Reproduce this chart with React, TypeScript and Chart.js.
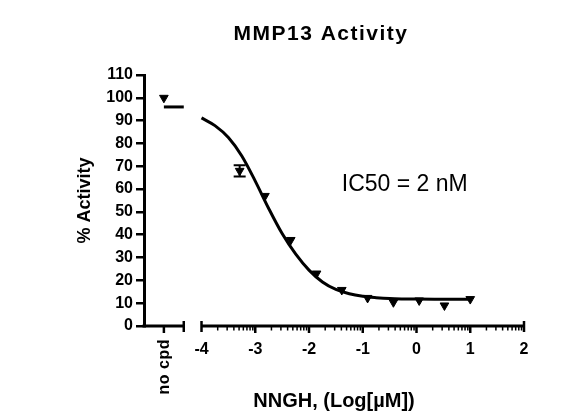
import React, { useEffect, useRef } from 'react';
import { Chart, registerables } from 'chart.js';

Chart.register(...registerables);

const FONT = '"Liberation Sans", Arial, Helvetica, sans-serif';

// NNGH doses, log10 of µM (3-fold dilutions from 10 µM)
const doseLog = [-3.29, -2.82, -2.34, -1.86, -1.39, -0.91, -0.43, 0.05, 0.52, 1.0];
const activity = [68, 57, 37.7, 23, 15.8, 12.3, 10.4, 11.2, 9.0, 11.8];
const activityErr = [2.5, 0, 0, 0, 0, 0, 0, 0, 0, 0];

// no compound control and the top plateau of the fit
const noCpdActivity = 100;
const noCpdFitTop = 96;

// fitted curve
const fitLog = [-4, -3.75, -3.5, -3.25, -3, -2.75, -2.5, -2.25, -2, -1.75, -1.5, -1.25, -1, -0.75, -0.5, -0.25, 0, 0.5, 1];
const fitActivity = [91.2, 87.8, 82.6, 74.5, 63.5, 51.5, 40.5, 31.6, 24.5, 19.3, 16.0, 14.1, 13.0, 12.4, 12.0, 11.85, 11.8, 11.75, 11.7];

const xTicks = [-4, -3, -2, -1, 0, 1, 2];
const yTicks = [0, 10, 20, 30, 40, 50, 60, 70, 80, 90, 100, 110];

// "no cpd" sits left of the axis break
const NO_CPD_X = -4.7;
const BREAK_END = -4.33;
const X_MIN = -5.07;

const brokenAxis = {
  id: 'brokenAxis',
  afterDatasetsDraw(chart: Chart) {
    const { ctx } = chart;
    const x = chart.scales.x;
    const y = chart.scales.y;
    ctx.save();
    ctx.strokeStyle = '#000';
    ctx.lineWidth = 2;
    activityErr.forEach((err, i) => {
      if (!err) return;
      const xp = x.getPixelForValue(doseLog[i]);
      const top = y.getPixelForValue(activity[i] + err);
      const bot = y.getPixelForValue(activity[i] - err);
      ctx.beginPath();
      ctx.moveTo(xp, top);
      ctx.lineTo(xp, bot);
      ctx.moveTo(xp - 6, top);
      ctx.lineTo(xp + 6, top);
      ctx.moveTo(xp - 6, bot);
      ctx.lineTo(xp + 6, bot);
      ctx.stroke();
    });
    ctx.restore();
  },
  afterDraw(chart: Chart) {
    const { ctx, chartArea } = chart;
    const x = chart.scales.x;
    const y = chart.scales.y;
    const y0 = y.getPixelForValue(0);
    const px = (v: number) => x.getPixelForValue(v);
    const seg = (x1: number, y1: number, x2: number, y2: number, w: number) => {
      ctx.lineWidth = w;
      ctx.beginPath();
      ctx.moveTo(x1, y1);
      ctx.lineTo(x2, y2);
      ctx.stroke();
    };

    ctx.save();
    ctx.strokeStyle = '#000';
    ctx.fillStyle = '#000';

    // left piece (no cpd)
    seg(chartArea.left - 1.5, y0, px(BREAK_END), y0, 3);
    seg(px(BREAK_END), y0 - 5, px(BREAK_END), y0 + 6, 2.5);
    seg(px(NO_CPD_X), y0, px(NO_CPD_X), y0 + 7, 2.5);

    // right piece (log dose)
    const first = xTicks[0];
    const last = xTicks[xTicks.length - 1];
    seg(px(first), y0, px(last), y0, 3);
    seg(px(first), y0 - 5, px(first), y0 + 6, 2.5);
    seg(px(last), y0 - 5, px(last), y0 + 6, 2.5);
    xTicks.slice(1, -1).forEach((t) => seg(px(t), y0, px(t), y0 + 7, 2.5));
    for (let d = first; d < last; d++) {
      for (let k = 2; k <= 9; k++) {
        const p = px(d + Math.log10(k));
        seg(p, y0, p, y0 + 4.5, 1.5);
      }
    }

    // rotated category label
    ctx.save();
    ctx.translate(px(NO_CPD_X) + 1, y0 + 13);
    ctx.rotate(-Math.PI / 2);
    ctx.font = `bold 16px ${FONT}`;
    (ctx as any).letterSpacing = '0.5px';
    ctx.textAlign = 'right';
    ctx.textBaseline = 'middle';
    ctx.fillText('no cpd', 0, 0);
    ctx.restore();

    // chart title
    ctx.save();
    ctx.font = `bold 21px ${FONT}`;
    (ctx as any).letterSpacing = '1.5px';
    ctx.textAlign = 'center';
    ctx.textBaseline = 'middle';
    ctx.fillText('MMP13 Activity', 321, 34);
    ctx.restore();

    // IC50 note
    ctx.font = `23px ${FONT}`;
    ctx.textAlign = 'left';
    ctx.textBaseline = 'middle';
    ctx.fillText('IC50 = 2 nM', px(-1.39), y.getPixelForValue(62));

    ctx.restore();
  },
};

const App: React.FC = () => {
  const chartRef = useRef<HTMLCanvasElement>(null);
  const chartInstance = useRef<Chart | null>(null);

  useEffect(() => {
    if (!chartRef.current) return;
    const ctx = chartRef.current.getContext('2d');
    if (!ctx) return;
    if (chartInstance.current) chartInstance.current.destroy();

    const black = '#000000';
    const tickFont = { family: FONT, size: 16, weight: 'bold' as const };

    chartInstance.current = new Chart(ctx, {
      type: 'scatter',
      data: {
        datasets: [
          {
            label: 'NNGH',
            data: doseLog.map((d, i) => ({ x: d, y: activity[i] })),
            pointStyle: 'triangle',
            rotation: 180,
            radius: 5,
            backgroundColor: black,
            borderColor: black,
            borderWidth: 1,
          },
          {
            label: 'no cpd',
            data: [{ x: NO_CPD_X, y: noCpdActivity }],
            pointStyle: 'triangle',
            rotation: 180,
            radius: 5,
            backgroundColor: black,
            borderColor: black,
            borderWidth: 1,
          },
          {
            label: 'fit',
            data: fitLog.map((d, i) => ({ x: d, y: fitActivity[i] })),
            showLine: true,
            borderColor: black,
            borderWidth: 3,
            pointRadius: 0,
            cubicInterpolationMode: 'monotone',
          },
          {
            label: 'fit top',
            data: [
              { x: NO_CPD_X, y: noCpdFitTop },
              { x: BREAK_END, y: noCpdFitTop },
            ],
            showLine: true,
            borderColor: black,
            borderWidth: 3,
            pointRadius: 0,
          },
        ],
      },
      options: {
        responsive: false,
        animation: false,
        events: [],
        layout: { padding: { top: 75, right: 50, bottom: 0, left: 0 } },
        plugins: {
          legend: { display: false },
          title: { display: false },
          tooltip: { enabled: false },
        },
        scales: {
          x: {
            type: 'linear',
            min: X_MIN,
            max: 2,
            afterBuildTicks: (s: any) => {
              s.ticks = xTicks.map((value) => ({ value }));
            },
            afterFit: (s: any) => {
              s.height = 91;
            },
            ticks: {
              color: black,
              font: tickFont,
              padding: 14,
              autoSkip: false,
              maxRotation: 0,
              callback: (v: any) => String(v),
            },
            grid: { display: false, drawTicks: false },
            border: { display: false },
            title: {
              display: true,
              text: 'NNGH, (Log[µM])',
              color: black,
              font: { family: FONT, size: 20, weight: 'bold' },
              padding: { top: 0, bottom: 4 },
            },
          },
          y: {
            min: 0,
            max: 110,
            afterBuildTicks: (s: any) => {
              s.ticks = yTicks.map((value) => ({ value }));
            },
            afterFit: (s: any) => {
              s.width = 144;
            },
            ticks: { color: black, font: tickFont, padding: 3 },
            grid: {
              drawOnChartArea: false,
              drawTicks: true,
              tickLength: 8,
              color: black,
              lineWidth: 2.5,
            },
            border: { display: true, color: black, width: 3 },
            title: {
              display: true,
              text: '% Activity',
              color: black,
              font: { family: FONT, size: 18, weight: 'bold' },
              padding: { top: 74, bottom: 0 },
            },
          },
        },
      },
      plugins: [brokenAxis],
    });

    return () => {
      if (chartInstance.current) {
        chartInstance.current.destroy();
        chartInstance.current = null;
      }
    };
  }, []);

  return (
    <div style={{ position: 'absolute', left: 0, top: 0, width: 574, height: 417, background: '#fff' }}>
      <canvas ref={chartRef} width={574} height={417} style={{ display: 'block' }} />
    </div>
  );
};

export default App;
